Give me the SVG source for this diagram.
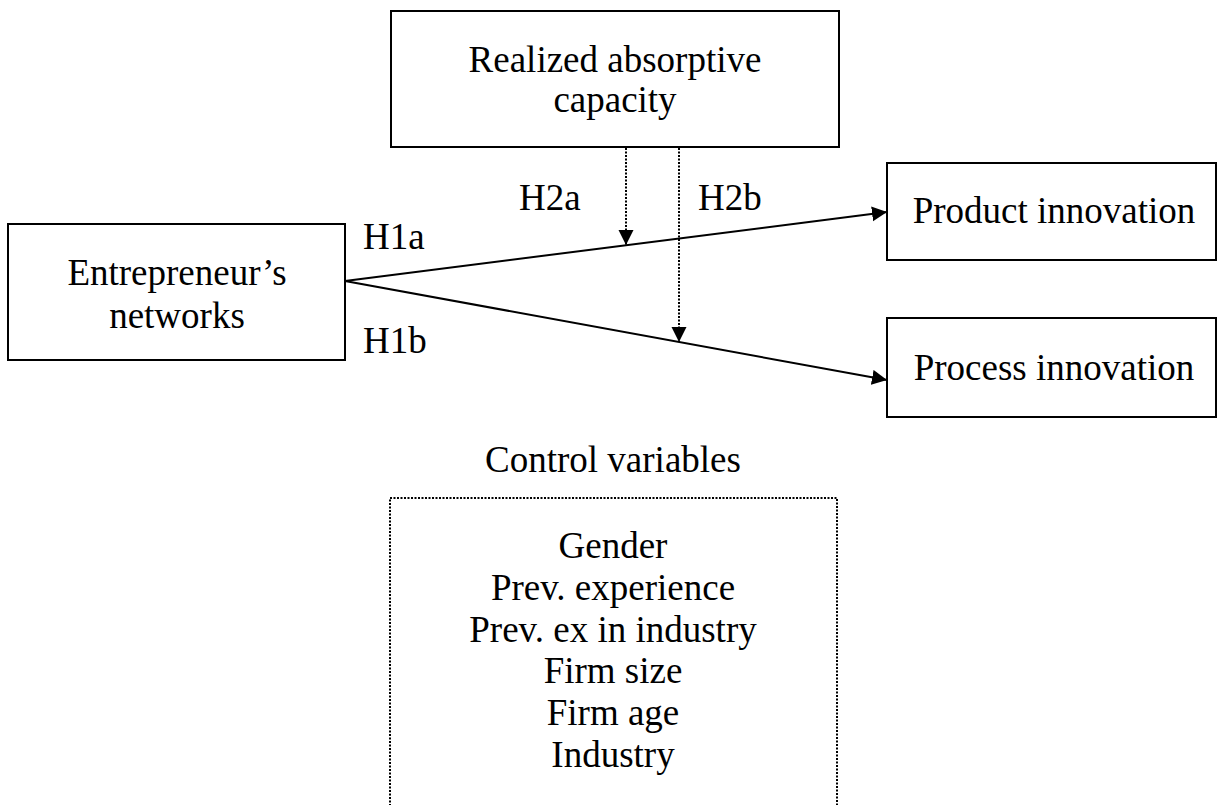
<svg xmlns="http://www.w3.org/2000/svg" width="1217" height="805" viewBox="0 0 1217 805">
<style>
  .box { fill: #ffffff; stroke: #000000; stroke-width: 2; }
  .dbox { fill: none; stroke: #000000; stroke-width: 2; stroke-dasharray: 2 1.5; }
  .t { font-family: "Liberation Serif", "Times New Roman", serif; font-size: 37px; fill: #000000; text-anchor: middle; }
  .tl { font-family: "Liberation Serif", "Times New Roman", serif; font-size: 37px; fill: #000000; text-anchor: start; }
  .solid { fill: none; stroke: #000000; stroke-width: 2; marker-end: url(#arrow); }
  .dotted { fill: none; stroke: #000000; stroke-width: 2; stroke-dasharray: 2 1.5; marker-end: url(#arrow); }
</style>
<defs>
  <marker id="arrow" markerUnits="userSpaceOnUse" markerWidth="16" markerHeight="16" viewBox="0 0 16 15" refX="15" refY="7.5" orient="auto">
    <path d="M0,0 L15,7.5 L0,15 z" fill="#000000"/>
  </marker>
</defs>
<rect width="1217" height="805" fill="#ffffff"/>

<g id="connectors">
  <path class="solid" d="M345,281 L887,212"/>
  <path class="solid" d="M345,281 L887,380"/>
  <path class="dotted" d="M626,148 L626,245"/>
  <path class="dotted" d="M679,148 L679,342"/>
</g>

<g id="node-absorptive">
  <rect class="box" x="391" y="11" width="448" height="136"/>
  <text class="t" x="615" y="72">Realized absorptive</text>
  <text class="t" x="615" y="112">capacity</text>
</g>

<g id="node-networks">
  <rect class="box" x="8" y="224" width="337" height="136"/>
  <text class="t" x="177" y="285">Entrepreneur’s</text>
  <text class="t" x="177" y="328">networks</text>
</g>

<g id="node-product">
  <rect class="box" x="887" y="163" width="329" height="97"/>
  <text class="t" x="1054" y="223">Product innovation</text>
</g>

<g id="node-process">
  <rect class="box" x="887" y="318" width="329" height="99"/>
  <text class="t" x="1054" y="380">Process innovation</text>
</g>

<g id="labels">
  <text class="tl" x="363" y="249">H1a</text>
  <text class="tl" x="363" y="353">H1b</text>
  <text class="tl" x="519" y="210">H2a</text>
  <text class="tl" x="698" y="210">H2b</text>
</g>

<g id="node-controls">
  <text class="t" x="613" y="472">Control variables</text>
  <rect class="dbox" x="390" y="498" width="447" height="330"/>
  <text class="t" x="613" y="558">Gender</text>
  <text class="t" x="613" y="600">Prev. experience</text>
  <text class="t" x="613" y="642">Prev. ex in industry</text>
  <text class="t" x="613" y="683">Firm size</text>
  <text class="t" x="613" y="725">Firm age</text>
  <text class="t" x="613" y="767">Industry</text>
</g>
</svg>
